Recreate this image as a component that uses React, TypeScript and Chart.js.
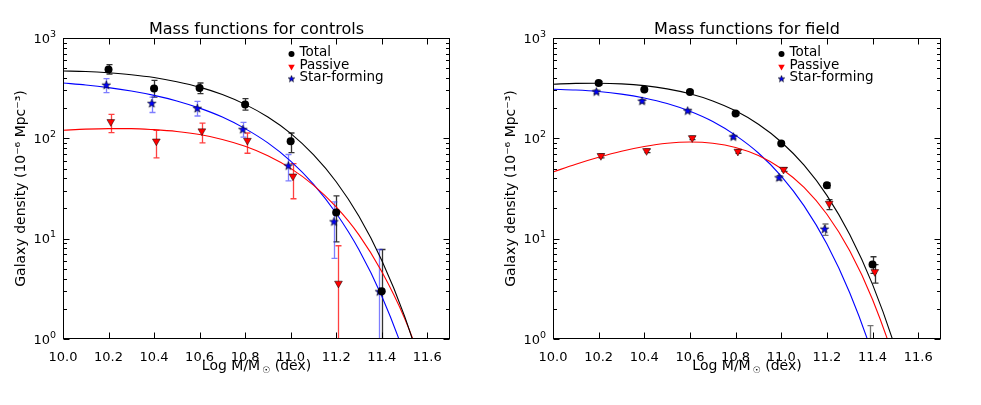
import { useEffect, useRef } from 'react';
import { Chart, registerables } from 'chart.js';
import type { ChartConfiguration, Plugin } from 'chart.js';
import { drawPoint } from 'chart.js/helpers';

Chart.register(...registerables);

// mass bins of the measured points (log M/Msun)
const massBins = [10.2, 10.4, 10.6, 10.8, 11.0, 11.2, 11.4];
// mass grid the fitted curves were read on
const fitMass = [10.0, 10.1, 10.2, 10.3, 10.4, 10.5, 10.6, 10.7, 10.8, 10.9, 11.0, 11.1, 11.2, 11.3, 11.4, 11.5, 11.6];

const xTicks = [10.0, 10.2, 10.4, 10.6, 10.8, 11.0, 11.2, 11.4, 11.6];
const yTicks = [1, 10, 100, 1000];
const yTickExponents = ['0', '1', '2', '3'];
const seriesLabels = ['Total', 'Passive', 'Star-forming'];

// controls: points with error bar ends
const ctrlTotal = [484, 313, 318, 217, 93.5, 18.2, 3.0];
const ctrlTotalHi = [543, 379, 356, 249, 113, 26.7, 7.8];
const ctrlTotalLo = [437, 258, 279, 191, 72, 9.3, 0.1];
const ctrlPassive = [146, 93.5, 118, 95, 41.9, 3.58, null];
const ctrlPassiveHi = [173, 120, 142, 113, 56, 8.5, null];
const ctrlPassiveLo = [114, 64, 90, 71, 25, 0.1, null];
const ctrlStar = [338, 222, 198, 122, 53, 14.7, 2.95];
const ctrlStarHi = [394, 258, 234, 144, 69, 23.3, 7.8];
const ctrlStarLo = [286, 181, 167, 103, 37.7, 6.35, 0.1];

// controls: fitted curves
const ctrlTotalFit = [469, 463, 450, 431, 404, 367, 324, 273, 218, 163, 112, 68.7, 36.9, 16.7, 6.1, 1.7, 0.34];
const ctrlPassiveFit = [120.5, 123.5, 125, 125, 122, 117, 109, 97.5, 83.4, 67.1, 50.2, 34.2, 20.7, 10.9, 4.7, 1.62, 0.41];
const ctrlStarFit = [356, 340, 320, 296, 268, 236, 200, 163, 125, 90, 59.3, 35, 17.9, 7.75, 2.68, 0.7, 0.13];

// field: points with error bar ends
const fieldTotal = [356, 306, 290, 177, 88.7, 34.1, 5.53];
const fieldTotalHi = [370, 318, 301, 184, 92, 36, 6.6];
const fieldTotalLo = [342, 294, 279, 170, 85, 32, 4.5];
const fieldPassive = [67, 75, 101, 74, 48.9, 22.4, 4.67];
const fieldPassiveHi = [70, 78, 105, 77, 51, 24.5, 5.5];
const fieldPassiveLo = [64, 72, 97, 71, 46.8, 19.5, 3.6];
const fieldStar = [290, 234, 187, 103, 40.4, 12.4, 0.5];
const fieldStarHi = [302, 243, 194, 107, 42.5, 14, 1.36];
const fieldStarLo = [279, 225, 180, 99, 38.3, 10.8, 0.1];

// field: fitted curves
const fieldTotalFit = [346, 353, 354, 349, 335, 311, 278, 236, 188, 138, 92, 54, 27, 11.0, 3.5, 0.81, 0.125];
const fieldPassiveFit = [46.2, 55.2, 64.7, 74.3, 82.8, 89.2, 91.8, 89.4, 81.2, 67.5, 50.1, 32.4, 17.5, 7.58, 2.48, 0.57, 0.084];
const fieldStarFit = [308, 303, 293, 276, 252, 222, 186, 147, 107, 71.4, 42, 21.2, 8.83, 2.89, 0.7, 0.115, 0.02];

const FONT = '"DejaVu Sans", "Liberation Sans", sans-serif';
const COLORS = ['#000000', '#ff0000', '#0000ff'];
const DODGE = [0, 0.01, -0.01];

type Series = { y: (number | null)[]; hi: (number | null)[]; lo: (number | null)[] };
type Panel = { title: string; points: Series[]; fits: number[][]; errColors: string[] };

const panels: Panel[] = [
    {
        title: 'Mass functions for controls',
        points: [
            { y: ctrlTotal, hi: ctrlTotalHi, lo: ctrlTotalLo },
            { y: ctrlPassive, hi: ctrlPassiveHi, lo: ctrlPassiveLo },
            { y: ctrlStar, hi: ctrlStarHi, lo: ctrlStarLo },
        ],
        fits: [ctrlTotalFit, ctrlPassiveFit, ctrlStarFit],
        errColors: ['rgba(0,0,0,0.8)', 'rgba(255,0,0,0.75)', 'rgba(40,40,255,0.6)'],
    },
    {
        title: 'Mass functions for field',
        points: [
            { y: fieldTotal, hi: fieldTotalHi, lo: fieldTotalLo },
            { y: fieldPassive, hi: fieldPassiveHi, lo: fieldPassiveLo },
            { y: fieldStar, hi: fieldStarHi, lo: fieldStarLo },
        ],
        fits: [fieldTotalFit, fieldPassiveFit, fieldStarFit],
        errColors: ['rgba(0,0,0,0.8)', 'rgba(0,0,0,0.8)', 'rgba(0,0,0,0.55)'],
    },
];

// filled five-point star, like matplotlib's '*' marker
const makeStar = (r: number, fill: string) => {
    const size = Math.ceil(2 * r + 2);
    const c = document.createElement('canvas');
    c.width = size;
    c.height = size;
    const ctx = c.getContext('2d')!;
    ctx.beginPath();
    for (let i = 0; i < 10; i++) {
        const rad = i % 2 === 0 ? r : r * 0.4;
        const a = -Math.PI / 2 + (i * Math.PI) / 5;
        const px = size / 2 + rad * Math.cos(a);
        const py = size / 2 + rad * Math.sin(a);
        if (i === 0) ctx.moveTo(px, py);
        else ctx.lineTo(px, py);
    }
    ctx.closePath();
    ctx.fillStyle = fill;
    ctx.fill();
    ctx.lineWidth = 0.6;
    ctx.strokeStyle = '#000';
    ctx.stroke();
    return c;
};

const makeDecor = (panel: Panel, star: HTMLCanvasElement, legendStar: HTMLCanvasElement): Plugin<'scatter'> => ({
    id: 'panelDecor',
    beforeDatasetsDraw(chart) {
        const { ctx, chartArea: a } = chart;
        const xs = chart.scales.x;
        const ys = chart.scales.y;
        ctx.save();
        ctx.beginPath();
        ctx.rect(a.left, a.top, a.right - a.left, a.bottom - a.top);
        ctx.clip();
        ctx.lineWidth = 1.3;
        panel.points.forEach((s, k) => {
            ctx.strokeStyle = panel.errColors[k];
            massBins.forEach((m, i) => {
                const hi = s.hi[i];
                const lo = s.lo[i];
                if (hi == null || lo == null) return;
                const px = Math.round(xs.getPixelForValue(m + DODGE[k])) + 0.5;
                const pHi = ys.getPixelForValue(hi);
                const pLo = ys.getPixelForValue(lo);
                ctx.beginPath();
                ctx.moveTo(px, pHi);
                ctx.lineTo(px, pLo);
                ctx.moveTo(px - 3, pHi);
                ctx.lineTo(px + 3, pHi);
                ctx.moveTo(px - 3, pLo);
                ctx.lineTo(px + 3, pLo);
                ctx.stroke();
            });
        });
        ctx.restore();
    },
    afterDraw(chart) {
        const { ctx, chartArea: a } = chart;
        const xs = chart.scales.x;
        const ys = chart.scales.y;
        ctx.save();
        ctx.strokeStyle = '#000';
        ctx.lineWidth = 1;
        const L = Math.round(a.left) + 0.5;
        const R = Math.round(a.right) - 0.5;
        const T = Math.round(a.top) + 0.5;
        const B = Math.round(a.bottom) - 0.5;
        ctx.strokeRect(L, T, R - L, B - T);

        // inward ticks on all four sides
        ctx.beginPath();
        xTicks.forEach((v) => {
            const px = Math.round(xs.getPixelForValue(v)) + 0.5;
            ctx.moveTo(px, B);
            ctx.lineTo(px, B - 6);
            ctx.moveTo(px, T);
            ctx.lineTo(px, T + 6);
        });
        yTicks.forEach((v) => {
            const py = Math.round(ys.getPixelForValue(v)) + 0.5;
            ctx.moveTo(L, py);
            ctx.lineTo(L + 6, py);
            ctx.moveTo(R, py);
            ctx.lineTo(R - 6, py);
        });
        [1, 10, 100].forEach((d) => {
            for (let k = 2; k <= 9; k++) {
                const py = Math.round(ys.getPixelForValue(k * d)) + 0.5;
                ctx.moveTo(L, py);
                ctx.lineTo(L + 3.5, py);
                ctx.moveTo(R, py);
                ctx.lineTo(R - 3.5, py);
            }
        });
        ctx.stroke();

        const tick = `13px ${FONT}`;
        const big = `14px ${FONT}`;
        const sup = `9.5px ${FONT}`;
        const small = `9px ${FONT}`;
        ctx.fillStyle = '#000';

        // y tick labels: 10 with a raised exponent
        ctx.textBaseline = 'alphabetic';
        ctx.textAlign = 'right';
        yTicks.forEach((v, i) => {
            const py = ys.getPixelForValue(v);
            ctx.font = sup;
            const we = ctx.measureText(yTickExponents[i]).width;
            const right = a.left - 7;
            ctx.fillText(yTickExponents[i], right, py - 1.5);
            ctx.font = tick;
            ctx.fillText('10', right - we, py + 4.5);
        });

        const cx = (a.left + a.right) / 2;

        // title
        ctx.font = `16px ${FONT}`;
        ctx.textAlign = 'center';
        ctx.fillText(panel.title, cx, 34);

        // x axis title with subscript sun symbol
        ctx.textAlign = 'left';
        ctx.font = big;
        const w1 = ctx.measureText('Log M/M').width;
        const w3 = ctx.measureText(' (dex)').width;
        ctx.font = small;
        const w2 = ctx.measureText('☉').width + 2;
        let tx = cx - (w1 + w2 + w3) / 2;
        const base = a.bottom + 31;
        ctx.font = big;
        ctx.fillText('Log M/M', tx, base);
        tx += w1;
        ctx.font = small;
        ctx.fillText('☉', tx + 2, base + 3);
        tx += w2;
        ctx.font = big;
        ctx.fillText(' (dex)', tx, base);

        // y axis title
        ctx.save();
        ctx.translate(25, (a.top + a.bottom) / 2);
        ctx.rotate(-Math.PI / 2);
        ctx.textAlign = 'center';
        ctx.font = big;
        ctx.fillText('Galaxy density (10⁻⁶ Mpc⁻³)', 0, 0);
        ctx.restore();

        // legend inside the axes
        const markerRows = [16, 28.7, 41];
        const textRows = [14, 27.5, 39.5];
        const styles = [
            { pointStyle: 'circle', radius: 3, rotation: 0 },
            { pointStyle: 'triangle', radius: 3.8, rotation: 180 },
            { pointStyle: legendStar, radius: 3, rotation: 0 },
        ];
        seriesLabels.forEach((label, k) => {
            ctx.fillStyle = COLORS[k];
            ctx.strokeStyle = '#000';
            ctx.lineWidth = 0.5;
            drawPoint(ctx, styles[k] as any, a.left + 228.5, a.top + markerRows[k]);
            ctx.fillStyle = '#000';
            ctx.font = `13.5px ${FONT}`;
            ctx.textAlign = 'left';
            ctx.textBaseline = 'middle';
            ctx.fillText(label, a.left + 236.5, a.top + textRows[k]);
        });
        ctx.restore();
    },
});

const MassFunctionChart: React.FC<{ panel: Panel }> = ({ panel }) => {
    const canvasRef = useRef<HTMLCanvasElement | null>(null);

    useEffect(() => {
        if (!canvasRef.current) return;
        const star = makeStar(4.5, '#0000ff');
        const legendStar = makeStar(3.5, '#0000ff');

        const fitSets = panel.fits.map((vals, k) => ({
            type: 'line' as const,
            data: fitMass.map((m, i) => ({ x: m, y: vals[i] })),
            borderColor: COLORS[k],
            borderWidth: 1.1,
            pointRadius: 0,
            fill: false,
            cubicInterpolationMode: 'monotone' as const,
        }));

        const pointStyles: any[] = ['circle', 'triangle', star];
        const pointSets = panel.points.map((s, k) => ({
            type: 'scatter' as const,
            data: massBins
                .map((m, i) => ({ x: m + DODGE[k], y: s.y[i] }))
                .filter((p) => p.y != null) as { x: number; y: number }[],
            pointStyle: pointStyles[k],
            pointRadius: k === 0 ? 4 : 4.5,
            pointRotation: k === 1 ? 180 : 0,
            backgroundColor: COLORS[k],
            borderColor: '#000',
            borderWidth: k === 0 ? 0 : 0.5,
        }));

        const config: ChartConfiguration<'scatter'> = {
            type: 'scatter',
            data: { datasets: [...pointSets, ...fitSets] as any },
            options: {
                animation: false,
                responsive: true,
                maintainAspectRatio: false,
                events: [],
                layout: { padding: { top: 38, right: 40, bottom: 0, left: 0 } },
                plugins: {
                    legend: { display: false },
                    title: { display: false },
                    tooltip: { enabled: false },
                },
                scales: {
                    x: {
                        type: 'linear',
                        min: 10.0,
                        max: 11.7,
                        afterBuildTicks: (s) => {
                            s.ticks = xTicks.map((v) => ({ value: v }));
                        },
                        afterFit: (s) => {
                            s.height = 66;
                        },
                        grid: { display: false },
                        border: { display: false },
                        ticks: {
                            callback: (v) => Number(v).toFixed(1),
                            color: '#000',
                            font: { family: FONT, size: 13 },
                            padding: 3,
                            maxRotation: 0,
                            autoSkip: false,
                        },
                    },
                    y: {
                        type: 'logarithmic',
                        min: 1,
                        max: 1000,
                        afterBuildTicks: (s) => {
                            s.ticks = yTicks.map((v) => ({ value: v }));
                        },
                        afterFit: (s) => {
                            s.width = 63;
                        },
                        grid: { display: false },
                        border: { display: false },
                        ticks: { display: false },
                    },
                },
            },
            plugins: [makeDecor(panel, star, legendStar)],
        };

        const chart = new Chart(canvasRef.current, config);
        return () => chart.destroy();
    }, [panel]);

    return <canvas ref={canvasRef} />;
};

export default function App() {
    return (
        <div style={{ position: 'fixed', left: 0, top: 0, width: 981, height: 405, background: '#fff' }}>
            <div style={{ position: 'absolute', left: 0, top: 0, width: 490, height: 405 }}>
                <MassFunctionChart panel={panels[0]} />
            </div>
            <div style={{ position: 'absolute', left: 490, top: 0, width: 491, height: 405 }}>
                <MassFunctionChart panel={panels[1]} />
            </div>
        </div>
    );
}
